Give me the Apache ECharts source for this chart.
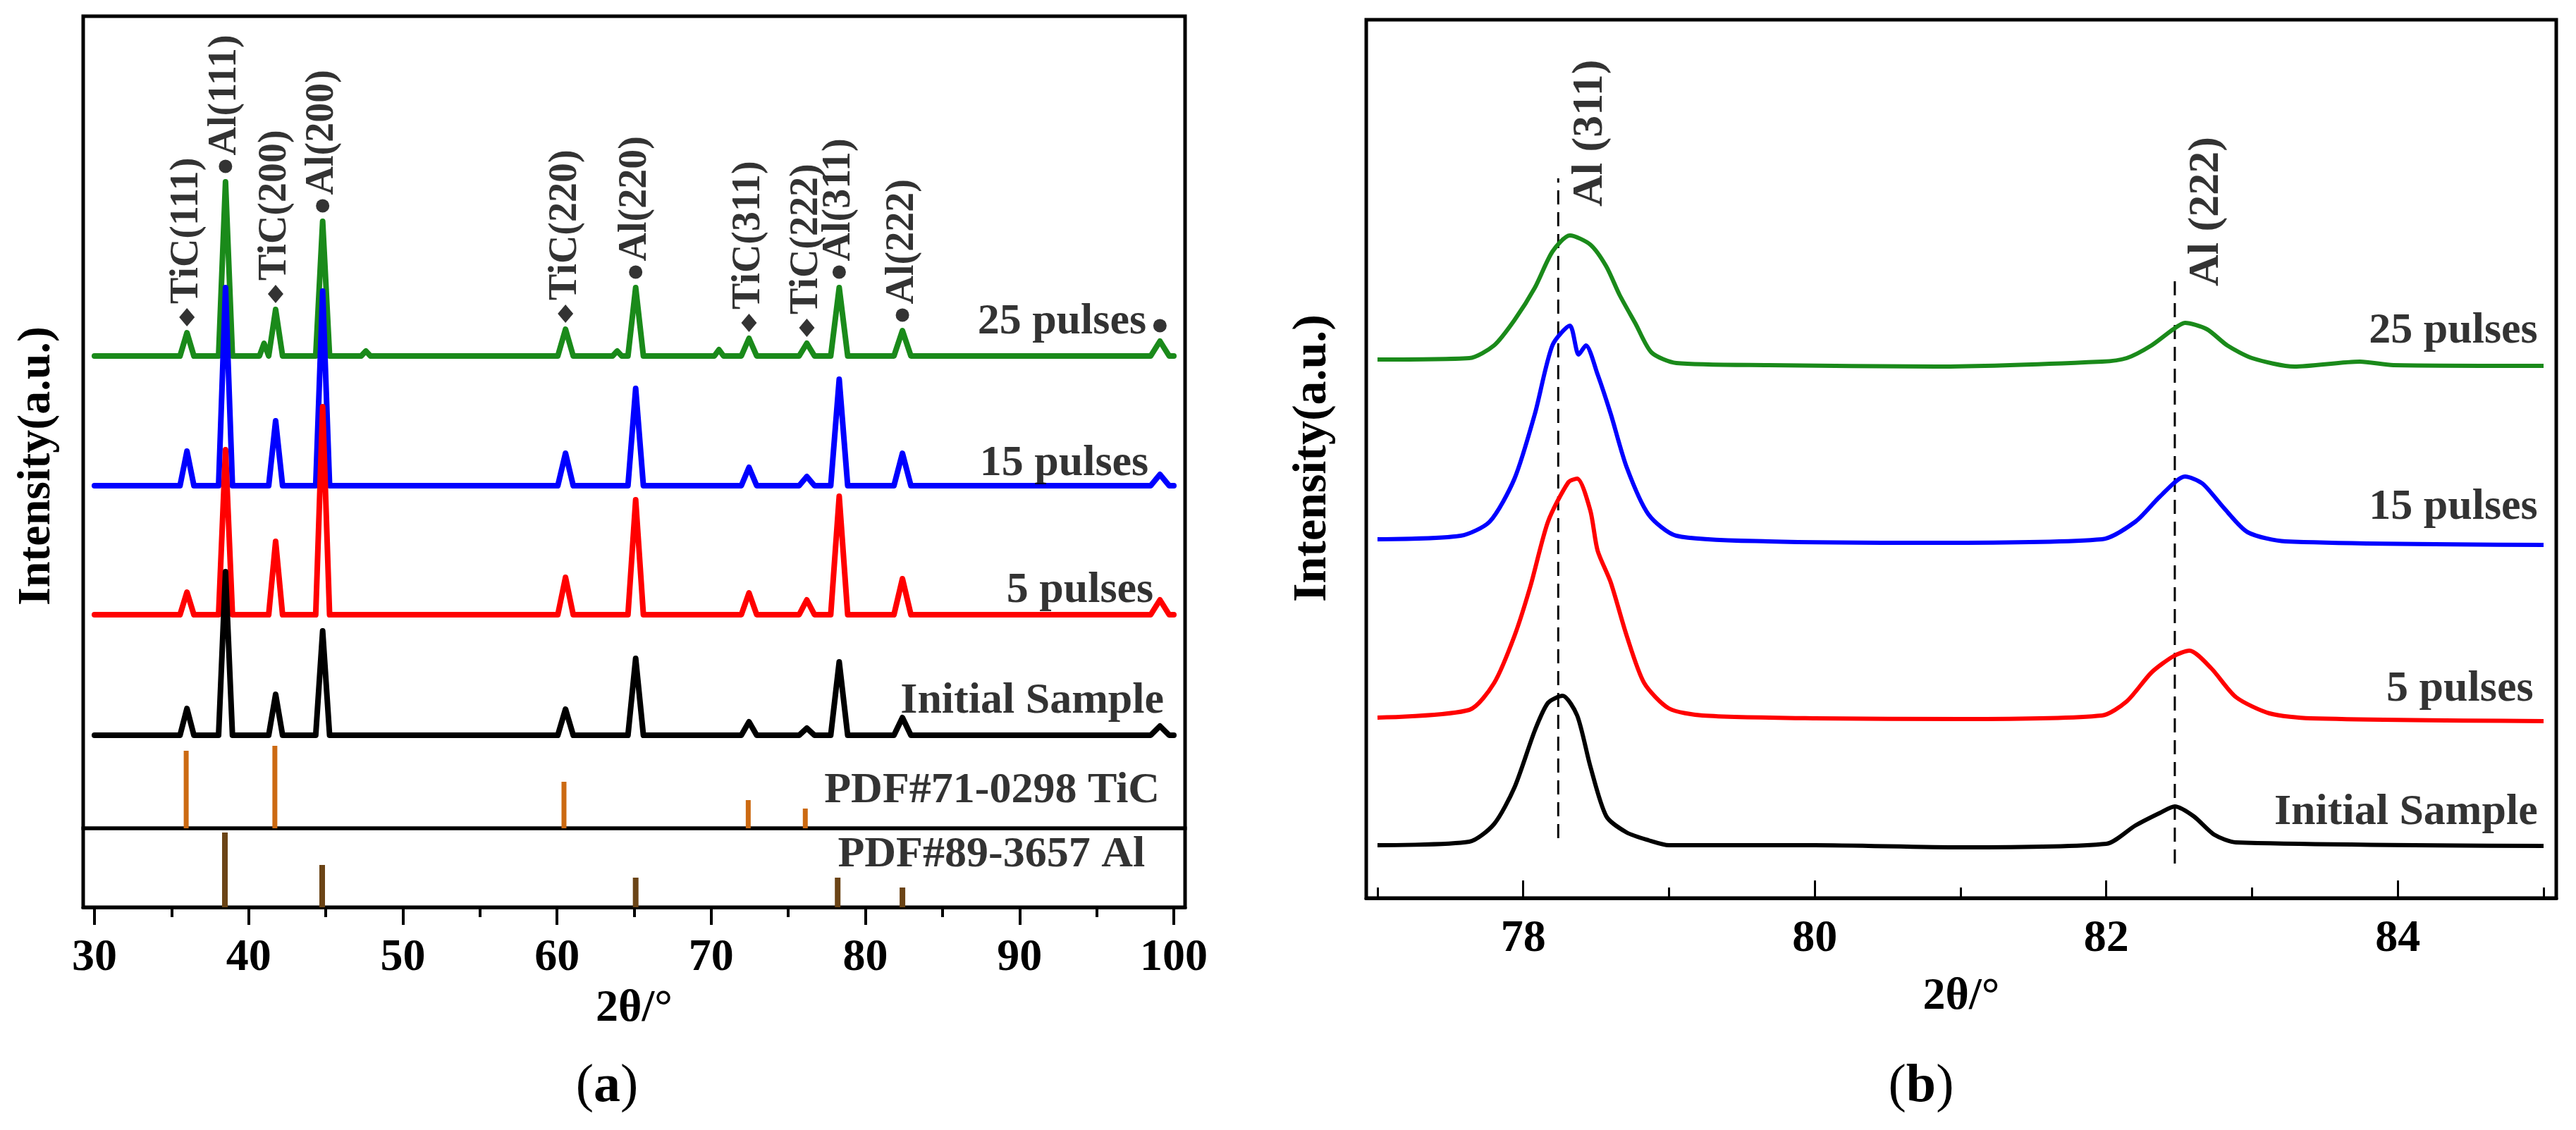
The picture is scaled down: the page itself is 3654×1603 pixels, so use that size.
<!DOCTYPE html>
<html>
<head>
<meta charset="utf-8">
<script src="https://cdn.jsdelivr.net/npm/echarts@6/dist/echarts.min.js"></script>
<style>
html, body { margin: 0; padding: 0; background: #fff; }
#chart { width: 3654px; height: 1603px; }
</style>
</head>
<body>
<div id="chart"></div>
<script>
const FONT = '"Liberation Serif", "Times New Roman", serif';

// ---------- panel (a): full XRD patterns ----------
const peakPos   = [36.0, 38.5, 41.75, 44.8, 60.55, 65.1, 72.45, 76.2, 78.3, 82.4, 99.1];
const peakHalfW = [0.45, 0.45, 0.45, 0.45, 0.5, 0.5, 0.5, 0.5, 0.55, 0.55, 0.6];
const peakNames = ['TiC(111)', 'Al(111)', 'TiC(200)', 'Al(200)', 'TiC(220)', 'Al(220)', 'TiC(311)', 'TiC(222)', 'Al(311)', 'Al(222)', ''];
const peakPhase = ['TiC', 'Al', 'TiC', 'Al', 'TiC', 'Al', 'TiC', 'TiC', 'Al', 'Al', 'Al'];

const samples = ['25 pulses', '15 pulses', '5 pulses', 'Initial Sample'];
const sampleColors = ['#1a8a1a', '#0000ff', '#ff0000', '#000000'];
const baseA = [670, 486, 303, 132];
const heights25 = [33, 247, 66, 191, 38, 97, 25, 18, 97, 36, 21];
const heights15 = [49, 281, 92, 276, 46, 138, 26, 13, 151, 46, 16];
const heights5  = [32, 234, 104, 295, 53, 163, 31, 21, 168, 51, 21];
const heights0  = [38, 232, 58, 148, 37, 109, 19, 10, 104, 25, 13];
// small bumps on the 25 pulses curve
const extra25Pos = [41.0, 47.6, 63.9, 70.5];
const extra25H   = [18, 7, 7, 9];

const sampleLabelXA = [98.22, 98.36, 98.68, 99.36];
const sampleLabelYA = [718, 517, 337, 180];

// reference cards
const ticRefPos = [35.95, 41.7, 60.45, 72.4, 76.1];
const ticRefH   = [110, 117, 66, 40, 28];
const alRefPos  = [38.46, 44.77, 65.1, 78.2, 82.4];
const alRefH    = [106, 60, 42, 42, 28];

// ---------- panel (b): zoom on Al(311) / Al(222) ----------
const b25 = [[77.0,764],[77.63,766],[77.8,784],[77.94,820],[78.08,866],[78.2,917],[78.32,940],[78.46,927],[78.57,896],[78.66,856],[78.77,815],[78.88,774],[79.05,759],[79.68,756],[80.83,754],[81.97,761],[82.14,766],[82.31,784],[82.46,807],[82.54,816],[82.69,807],[82.83,784],[83.0,766],[83.29,754],[83.74,761],[83.97,756],[85.0,755]];
const b15 = [[77.0,509],[77.57,514],[77.77,534],[77.94,595],[78.08,687],[78.2,784],[78.32,812],[78.38,771],[78.43,784],[78.51,743],[78.6,687],[78.71,611],[78.86,544],[79.05,514],[79.68,506],[80.83,504],[81.97,509],[82.2,534],[82.37,570],[82.54,598],[82.66,588],[82.8,555],[82.97,519],[83.23,506],[85.0,501]];
const b5  = [[77.0,256],[77.63,267],[77.8,305],[77.94,372],[78.05,443],[78.17,534],[78.31,590],[78.37,595],[78.46,550],[78.51,493],[78.6,448],[78.71,372],[78.83,305],[79.0,269],[79.23,259],[80.0,255],[81.0,254],[81.97,259],[82.14,279],[82.31,320],[82.46,343],[82.57,351],[82.72,326],[82.89,285],[83.12,262],[83.4,255],[85.0,251]];
const b0  = [[77.0,75],[77.63,80],[77.8,105],[77.94,157],[78.08,238],[78.17,277],[78.27,287],[78.37,259],[78.46,187],[78.57,116],[78.71,93],[78.86,82],[79.0,75],[80.0,75],[81.0,72],[82.0,77],[82.2,103],[82.37,121],[82.47,130],[82.6,116],[82.74,90],[82.89,79],[85.0,74]];

const bDashPos    = [78.24, 82.47];
const bDashBottom = [85, 49];
const bDashTop    = [1021, 886];
const bAnnoNames  = ['Al (311)', 'Al (222)'];
const bAnnoBottom = [981, 868];

const sampleLabelXB = [84.96, 84.96, 84.93, 84.96];
const sampleLabelYB = [804, 554, 296, 121];

function pattern(base, pos, h, w) {
    const pts = [[30, base], [100, base]];
    pos.forEach((p, i) => {
        pts.push([p - w[i], base], [p, base + h[i]], [p + w[i], base]);
    });
    return pts.sort((a, b) => a[0] - b[0]);
}

const curvesA = [
    pattern(baseA[0], peakPos.concat(extra25Pos), heights25.concat(extra25H), peakHalfW.concat(extra25Pos.map(() => 0.3))),
    pattern(baseA[1], peakPos, heights15, peakHalfW),
    pattern(baseA[2], peakPos, heights5, peakHalfW),
    pattern(baseA[3], peakPos, heights0, peakHalfW)
];
const curvesB = [b25, b15, b5, b0];

const textStyle = size => ({ fontFamily: FONT, fontWeight: 'bold', fontSize: size, color: '#000' });

const series = [];

// patterns (a)
curvesA.forEach((c, i) => {
    series.push({
        type: 'line', xAxisIndex: 0, yAxisIndex: 0, data: c, showSymbol: false,
        lineStyle: { color: sampleColors[i], width: 8, join: 'round', cap: 'round' },
        z: 2 + i, silent: true
    });
});

// reference sticks
series.push({
    type: 'bar', xAxisIndex: 0, yAxisIndex: 0, barWidth: 7,
    data: ticRefPos.map((p, i) => [p, ticRefH[i]]),
    itemStyle: { color: '#cc6a12' }, silent: true
});
series.push({
    type: 'bar', xAxisIndex: 1, yAxisIndex: 1, barWidth: 8,
    data: alRefPos.map((p, i) => [p, alRefH[i]]),
    itemStyle: { color: '#6b4416' }, silent: true
});

// peak markers with rotated labels (a)
['TiC', 'Al'].forEach(phase => {
    const data = [];
    peakPos.forEach((p, i) => {
        if (peakPhase[i] === phase) data.push({ value: [p, baseA[0] + heights25[i] + 22], name: peakNames[i] });
    });
    series.push({
        type: 'scatter', xAxisIndex: 0, yAxisIndex: 0, data: data,
        symbol: phase === 'TiC' ? 'diamond' : 'circle',
        symbolSize: phase === 'TiC' ? [22, 26] : 19,
        itemStyle: { color: '#000' }, z: 10, silent: true,
        label: Object.assign({
            show: true, position: 'top', distance: 6, rotate: 90,
            align: 'left', verticalAlign: 'middle', formatter: p => p.name
        }, textStyle(56))
    });
});

// sample names (a)
series.push({
    type: 'scatter', xAxisIndex: 0, yAxisIndex: 0, symbolSize: 0, silent: true, z: 10,
    data: samples.map((s, i) => ({ value: [sampleLabelXA[i], sampleLabelYA[i]], name: s })).concat([
        { value: [99.09, 53], name: 'PDF#71-0298 TiC' }
    ]),
    label: Object.assign({ show: true, position: 'left', distance: 0, align: 'right', verticalAlign: 'middle', formatter: p => p.name }, textStyle(62))
});
series.push({
    type: 'scatter', xAxisIndex: 1, yAxisIndex: 1, symbolSize: 0, silent: true, z: 10,
    data: [{ value: [98.13, 74], name: 'PDF#89-3657 Al' }],
    label: Object.assign({ show: true, position: 'left', distance: 0, align: 'right', verticalAlign: 'middle', formatter: p => p.name }, textStyle(62))
});

// patterns (b)
curvesB.forEach((c, i) => {
    series.push({
        type: 'line', xAxisIndex: 3, yAxisIndex: 2, data: c, showSymbol: false,
        smooth: 0.25,
        lineStyle: { color: sampleColors[i], width: 6, join: 'round' },
        z: 2 + i, silent: true
    });
});

// dashed guide lines (b)
bDashPos.forEach((p, i) => {
    series.push({
        type: 'line', xAxisIndex: 3, yAxisIndex: 2, showSymbol: false, silent: true, z: 1,
        data: [[p, bDashBottom[i]], [p, bDashTop[i]]],
        lineStyle: { color: '#000', width: 3, type: [20, 11] }
    });
});

// rotated peak names (b)
series.push({
    type: 'scatter', xAxisIndex: 3, yAxisIndex: 2, symbolSize: 0, silent: true, z: 10,
    data: bDashPos.map((p, i) => ({ value: [p + 0.22, bAnnoBottom[i]], name: bAnnoNames[i] })),
    label: Object.assign({ show: true, position: 'inside', rotate: 90, align: 'left', verticalAlign: 'middle', formatter: p => p.name }, textStyle(62))
});

// sample names (b)
series.push({
    type: 'scatter', xAxisIndex: 3, yAxisIndex: 2, symbolSize: 0, silent: true, z: 10,
    data: samples.map((s, i) => ({ value: [sampleLabelXB[i], sampleLabelYB[i]], name: s })),
    label: Object.assign({ show: true, position: 'left', distance: 0, align: 'right', verticalAlign: 'middle', formatter: p => p.name }, textStyle(62))
});

const hiddenX = (grid, min, max) => ({ type: 'value', gridIndex: grid, min: min, max: max, show: false });

const option = {
    backgroundColor: '#fff',
    animation: false,
    grid: [
        { left: 118, top: 23, width: 1563, height: 1152, show: true, borderColor: '#000', borderWidth: 5, backgroundColor: 'transparent' },
        { left: 118, top: 1175, width: 1563, height: 112, show: true, borderColor: '#000', borderWidth: 5, backgroundColor: 'transparent' },
        { left: 1938, top: 28, width: 1688, height: 1246, show: true, borderColor: '#000', borderWidth: 5, backgroundColor: 'transparent' }
    ],
    xAxis: [
        hiddenX(0, 29.27, 100.73),
        {
            type: 'value', gridIndex: 1, min: 29.27, max: 100.73, position: 'bottom',
            axisLine: { show: true, lineStyle: { color: '#000', width: 5 } },
            axisTick: { show: true, inside: false, length: 25, customValues: [30, 40, 50, 60, 70, 80, 90, 100], lineStyle: { color: '#000', width: 4 } },
            axisLabel: Object.assign({ show: true, margin: 40, customValues: [30, 40, 50, 60, 70, 80, 90, 100] }, textStyle(64)),
            splitLine: { show: false },
            name: '2θ/°', nameLocation: 'middle', nameGap: 112,
            nameTextStyle: textStyle(64)
        },
        {
            type: 'value', gridIndex: 1, min: 29.27, max: 100.73, position: 'bottom',
            axisLine: { show: false },
            axisTick: { show: true, inside: false, length: 14, customValues: [35, 45, 55, 65, 75, 85, 95], lineStyle: { color: '#000', width: 4 } },
            axisLabel: { show: false }, splitLine: { show: false }
        },
        {
            type: 'value', gridIndex: 2, min: 76.923, max: 85.087, position: 'bottom',
            axisLine: { show: true, lineStyle: { color: '#000', width: 5 } },
            axisTick: { show: true, inside: true, length: 25, customValues: [78, 80, 82, 84], lineStyle: { color: '#000', width: 3 } },
            axisLabel: Object.assign({ show: true, margin: 26, customValues: [78, 80, 82, 84] }, textStyle(64)),
            splitLine: { show: false },
            name: '2θ/°', nameLocation: 'middle', nameGap: 108,
            nameTextStyle: textStyle(64)
        },
        {
            type: 'value', gridIndex: 2, min: 76.923, max: 85.087, position: 'bottom',
            axisLine: { show: false },
            axisTick: { show: true, inside: true, length: 15, customValues: [77, 79, 81, 83, 85], lineStyle: { color: '#000', width: 3 } },
            axisLabel: { show: false }, splitLine: { show: false }
        }
    ],
    yAxis: [
        { type: 'value', gridIndex: 0, min: 0, max: 1152, show: false },
        { type: 'value', gridIndex: 1, min: 0, max: 112, show: false },
        { type: 'value', gridIndex: 2, min: 0, max: 1246, show: false }
    ],
    graphic: [
        { type: 'text', x: 53, y: 661, rotation: Math.PI / 2,
          style: { text: 'Intensity(a.u.)', font: 'bold 66px ' + FONT, align: 'center', verticalAlign: 'middle', fill: '#000' } },
        { type: 'text', x: 1862, y: 650, rotation: Math.PI / 2,
          style: { text: 'Intensity(a.u.)', font: 'bold 68px ' + FONT, align: 'center', verticalAlign: 'middle', fill: '#000' } },
        { type: 'text', x: 861, y: 1542,
          style: { text: '{p|(}{b|a}{p|)}', align: 'center', verticalAlign: 'middle',
                   rich: { p: { font: '76px ' + FONT, fill: '#000' }, b: { font: 'bold 76px ' + FONT, fill: '#000' } } } },
        { type: 'text', x: 2725, y: 1542,
          style: { text: '{p|(}{b|b}{p|)}', align: 'center', verticalAlign: 'middle',
                   rich: { p: { font: '76px ' + FONT, fill: '#000' }, b: { font: 'bold 76px ' + FONT, fill: '#000' } } } }
    ],
    series: series
};

const myChart = echarts.init(document.getElementById('chart'));
myChart.setOption(option);
</script>
</body>
</html>
